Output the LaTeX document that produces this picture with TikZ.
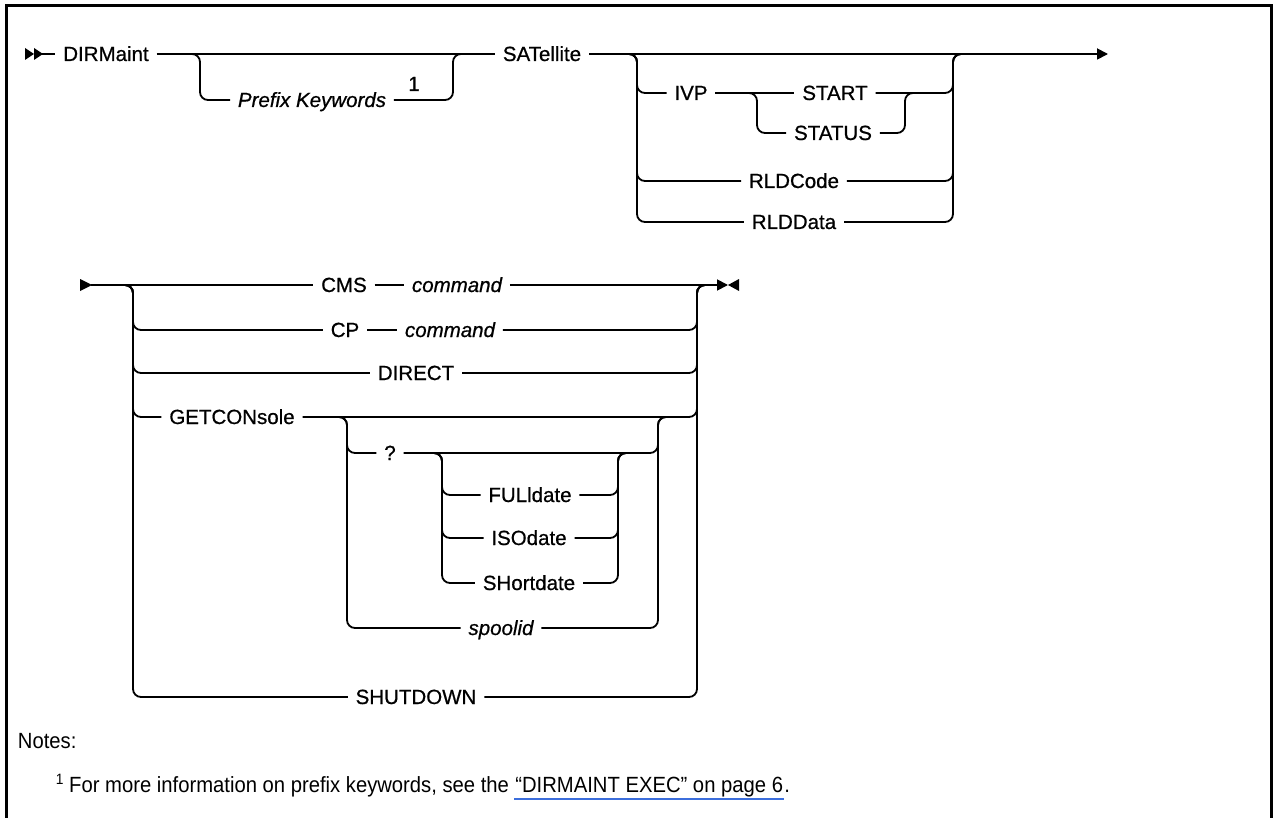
\documentclass[tikz,border=0pt]{standalone}
\usepackage{fontspec}
\setmainfont{Liberation Sans}[FakeBold=0.7]
\newfontfamily\notefont{Liberation Sans}[FakeStretch=0.92]
\usetikzlibrary{arrows.meta,calc}
\definecolor{linkblue}{RGB}{60,110,220}
\begin{document}
\begin{tikzpicture}[x=1pt,y=-1pt,
  line width=1.8pt,
  lbl/.style={font=\fontsize{20.5}{24}\selectfont, text height=14pt, text depth=0pt, inner ysep=0pt, inner xsep=7pt},
  ital/.style={lbl, font=\fontsize{20.5}{24}\selectfont\itshape},
  rc/.style={rounded corners=8pt},
  tip/.style={-{Triangle[length=11pt,width=11pt]}},
  note/.style={anchor=base west, inner sep=0pt, font=\notefont\fontsize{22}{26}\selectfont}
]
\useasboundingbox (0,0) rectangle (1273,818);
\draw[line width=3pt] (6,818) -- (6,6) -- (1271,6) -- (1271,818);

% ---------- Row 1 ----------
\fill (25,48) -- (34,54) -- (25,60) -- cycle;
\fill (34,48) -- (43,54) -- (34,60) -- cycle;
\coordinate (s1) at (42,54);
\node[lbl] (dir) at (106,54) {DIRMaint};
\node[ital] (pk) at (312,100) {Prefix Keywords};
\node[lbl] (fnmark) at (414,84) {1};
\node[lbl] (sat) at (542,54) {SATellite};
\coordinate (e1) at (1108,54);
\draw (s1) -- (dir.west);
\draw (dir.east) -- (sat.west);
\draw[tip] (sat.east) -- (e1);

% block A
\coordinate (a1) at (190,54);
\coordinate (aL) at (200,54);
\coordinate (aR) at (453,54);
\coordinate (a2) at (463,54);
\draw[rc] (a1) -| (aL |- pk.west) -- (pk.west);
\draw[rc] (pk.east) -| (aR) -- (a2);

% block B
\node[lbl] (ivp) at (691,93) {IVP};
\node[lbl] (start) at (835,93) {START};
\node[lbl] (status) at (833,133) {STATUS};
\node[lbl] (rcode) at (794,181) {RLDCode};
\node[lbl] (rdata) at (794,222) {RLDData};
\coordinate (b1) at (627,54);
\coordinate (bL) at (637,54);
\coordinate (bR) at (953,54);
\coordinate (b2) at (963,54);
\draw[rc] (b1) -| (bL |- ivp.west) -- (ivp.west);
\draw[rc] (b1) -| (bL |- rcode.west) -- (rcode.west);
\draw[rc] (b1) -| (bL |- rdata.west) -- (rdata.west);
\draw (ivp.east) -- (start.west);
\draw[rc] (start.east) -| (bR) -- (b2);
\draw[rc] (rcode.east) -| (bR) -- (b2);
\draw[rc] (rdata.east) -| (bR) -- (b2);
% block C
\coordinate (c1) at (747,93);
\coordinate (cL) at (757,93);
\coordinate (cR) at (905,93);
\coordinate (c2) at (915,93);
\draw[rc] (c1) -| (cL |- status.west) -- (status.west);
\draw[rc] (status.east) -| (cR) -- (c2);

% ---------- Row 2 ----------
\fill (80,279) -- (92,285) -- (80,291) -- cycle;
\coordinate (s2) at (91,285);
\node[lbl] (cms) at (344,285) {CMS};
\node[ital] (cmsc) at (457,285) {command};
\coordinate (e2) at (728,285);
\draw (s2) -- (cms.west);
\draw (cms.east) -- (cmsc.west);
\draw[tip] (cmsc.east) -- (e2);
\fill (739,279) -- (728,285) -- (739,291) -- cycle;

% block D
\node[lbl] (cp) at (345,330) {CP};
\node[ital] (cpc) at (450,330) {command};
\node[lbl] (direct) at (416,373) {DIRECT};
\node[lbl] (getc) at (232,417) {GETCONsole};
\node[lbl] (shut) at (416,697) {SHUTDOWN};
\coordinate (d1) at (123,285);
\coordinate (dL) at (133,285);
\coordinate (dR) at (697,285);
\coordinate (d2) at (707,285);
\draw[rc] (d1) -| (dL |- cp.west) -- (cp.west);
\draw[rc] (d1) -| (dL |- direct.west) -- (direct.west);
\draw[rc] (d1) -| (dL |- getc.west) -- (getc.west);
\draw[rc] (d1) -| (dL |- shut.west) -- (shut.west);
\draw (cp.east) -- (cpc.west);
\draw[rc] (cpc.east) -| (dR) -- (d2);
\draw[rc] (direct.east) -| (dR) -- (d2);
\draw[rc] (getc.east) -| (dR) -- (d2);
\draw[rc] (shut.east) -| (dR) -- (d2);

% block E
\node[lbl] (q) at (390,453) {?};
\node[ital] (spool) at (501,628) {spoolid};
\coordinate (ea) at (337,417);
\coordinate (eL) at (347,417);
\coordinate (eR) at (658,417);
\coordinate (eb) at (668,417);
\draw[rc] (ea) -| (eL |- q.west) -- (q.west);
\draw[rc] (ea) -| (eL |- spool.west) -- (spool.west);
\draw[rc] (q.east) -| (eR) -- (eb);
\draw[rc] (spool.east) -| (eR) -- (eb);

% block F
\node[lbl] (full) at (530,495) {FULldate};
\node[lbl] (iso) at (529,538) {ISOdate};
\node[lbl] (short) at (529,583) {SHortdate};
\coordinate (fa) at (432,453);
\coordinate (fL) at (442,453);
\coordinate (fR) at (618,453);
\coordinate (fb) at (628,453);
\draw[rc] (fa) -| (fL |- full.west) -- (full.west);
\draw[rc] (fa) -| (fL |- iso.west) -- (iso.west);
\draw[rc] (fa) -| (fL |- short.west) -- (short.west);
\draw[rc] (full.east) -| (fR) -- (fb);
\draw[rc] (iso.east) -| (fR) -- (fb);
\draw[rc] (short.east) -| (fR) -- (fb);

% ---------- Notes ----------
\node[note] (notes) at (17,748) {Notes:};
\node[note] (fn1) at (55,792) {\raisebox{8pt}{\fontsize{15}{16}\selectfont 1} For more information on prefix keywords, see the};
\node[note, xshift=4.5pt] (fnl) at (fn1.base east) {“DIRMAINT EXEC” on page 6};
\node[note, xshift=-0.5pt] (fnd) at (fnl.base east) {.};
\draw[linkblue, line width=1.1pt] ([yshift=-7pt]fnl.base west) -- ([yshift=-7pt]fnl.base east);
\end{tikzpicture}
\end{document}
